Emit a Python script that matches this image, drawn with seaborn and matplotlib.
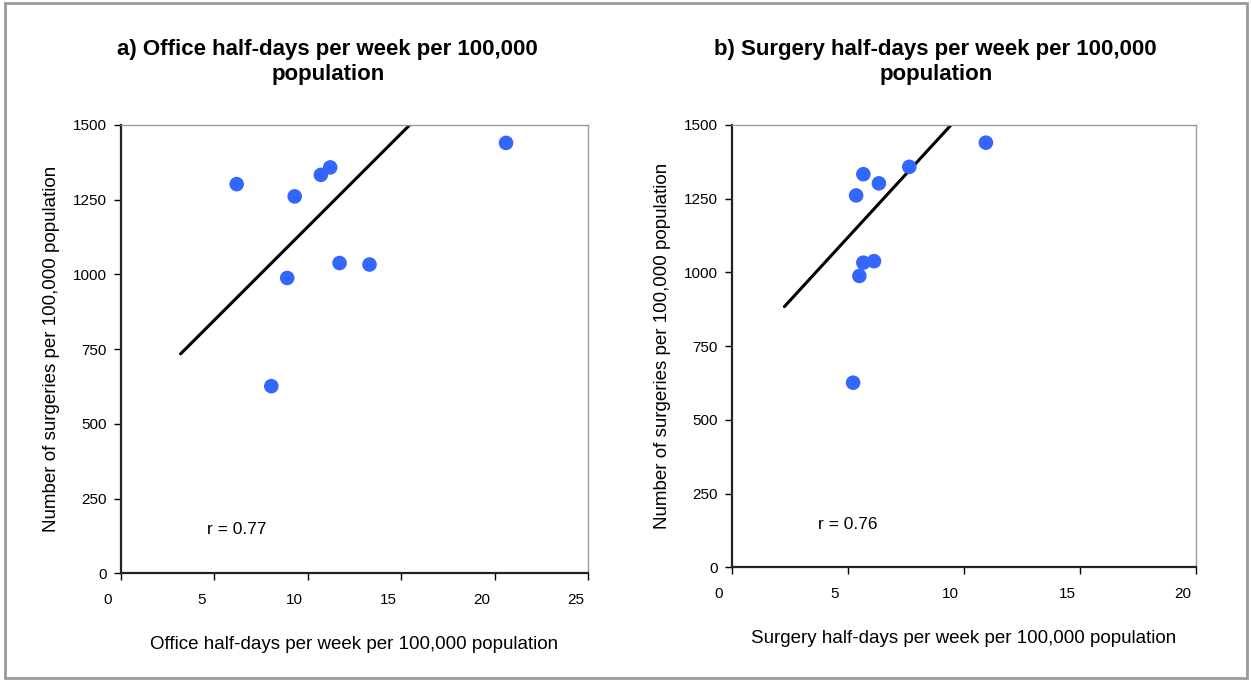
import numpy as np
import pandas as pd
import matplotlib.pyplot as plt
import matplotlib.patches as mpatches
import matplotlib.transforms as mtransforms
import seaborn as sns

# values
surgeries = [1440, 1358, 1333, 1302, 1261, 1038, 1033, 988, 626]
office_days = [20.6, 11.2, 10.7, 6.2, 9.3, 11.7, 13.3, 8.9, 8.05]
surgery_days = [10.95, 7.65, 5.67, 6.34, 5.36, 6.13, 5.67, 5.5, 5.23]

# trend lines (end points as drawn)
office_fit_x = [3.2, 15.45]
office_fit_y = [734, 1500]
surgery_fit_x = [2.27, 9.45]
surgery_fit_y = [884, 1500]

office_r = "r = 0.77"
surgery_r = "r = 0.76"

y_ticks = [0, 250, 500, 750, 1000, 1250, 1500]
office_x_ticks = [0, 5, 10, 15, 20, 25]
surgery_x_ticks = [0, 5, 10, 15, 20]

df_a = pd.DataFrame({'x': office_days, 'y': surgeries})
df_b = pd.DataFrame({'x': surgery_days, 'y': surgeries})

sns.set_style('white')
plt.rcParams['font.family'] = ['Liberation Sans', 'DejaVu Sans']
plt.rcParams['text.color'] = 'black'
plt.rcParams['axes.labelcolor'] = 'black'
plt.rcParams['xtick.color'] = 'black'
plt.rcParams['ytick.color'] = 'black'

fig = plt.figure(figsize=(12.51, 6.81), dpi=100)
ax_a = fig.add_axes([0.0965, 0.1582, 0.3738, 0.6583])
ax_b = fig.add_axes([0.5849, 0.1670, 0.3711, 0.6495])

panels = [
    (ax_a, df_a, office_fit_x, office_fit_y, office_x_ticks, 25, office_r, 4.6,
     'Office half-days per week per 100,000 population'),
    (ax_b, df_b, surgery_fit_x, surgery_fit_y, surgery_x_ticks, 20, surgery_r, 3.7,
     'Surgery half-days per week per 100,000 population'),
]

# x tick labels sit a little left of their ticks in the original
shift = mtransforms.ScaledTranslation(-13 / 100, 0, fig.dpi_scale_trans)

for ax, df, fx, fy, xt, xmax, rtxt, rx, xlabel in panels:
    sns.lineplot(x=fx, y=fy, ax=ax, color='black', linewidth=2.2)
    sns.scatterplot(data=df, x='x', y='y', ax=ax, color='#3366ff', s=110,
                    edgecolor='none', zorder=3)
    ax.set_xlim(0, xmax)
    ax.set_ylim(0, 1500)
    ax.set_xticks(xt)
    ax.set_yticks(y_ticks)
    ax.tick_params(axis='both', which='both', direction='out', length=5,
                   width=1, color='black', labelsize=11, pad=5,
                   bottom=True, left=True)
    ax.tick_params(axis='x', pad=9)
    for lbl in ax.get_xticklabels():
        lbl.set_transform(lbl.get_transform() + shift)
    ax.set_xlabel(xlabel, fontsize=13.5, labelpad=21)
    ax.set_ylabel('Number of surgeries per 100,000 population', fontsize=13.5,
                  labelpad=9)
    for side in ['left', 'bottom']:
        ax.spines[side].set_color('#222222')
        ax.spines[side].set_linewidth(1.6)
    for side in ['top', 'right']:
        ax.spines[side].set_color('#999999')
        ax.spines[side].set_linewidth(1.0)
    ax.text(rx, 145, rtxt, fontsize=12.5, va='center', ha='left')

fig.text(0.262, 0.909, 'a) Office half-days per week per 100,000\npopulation',
         ha='center', va='center', fontsize=16, fontweight='bold', linespacing=1.28)
fig.text(0.748, 0.909, 'b) Surgery half-days per week per 100,000\npopulation',
         ha='center', va='center', fontsize=16, fontweight='bold', linespacing=1.28)

# grey frame around the whole chart
fig.patches.append(mpatches.Rectangle((0.004, 0.004), 0.993, 0.992,
                                      transform=fig.transFigure, fill=False,
                                      edgecolor='#999999', linewidth=2))

plt.savefig('out.png', dpi=100)
